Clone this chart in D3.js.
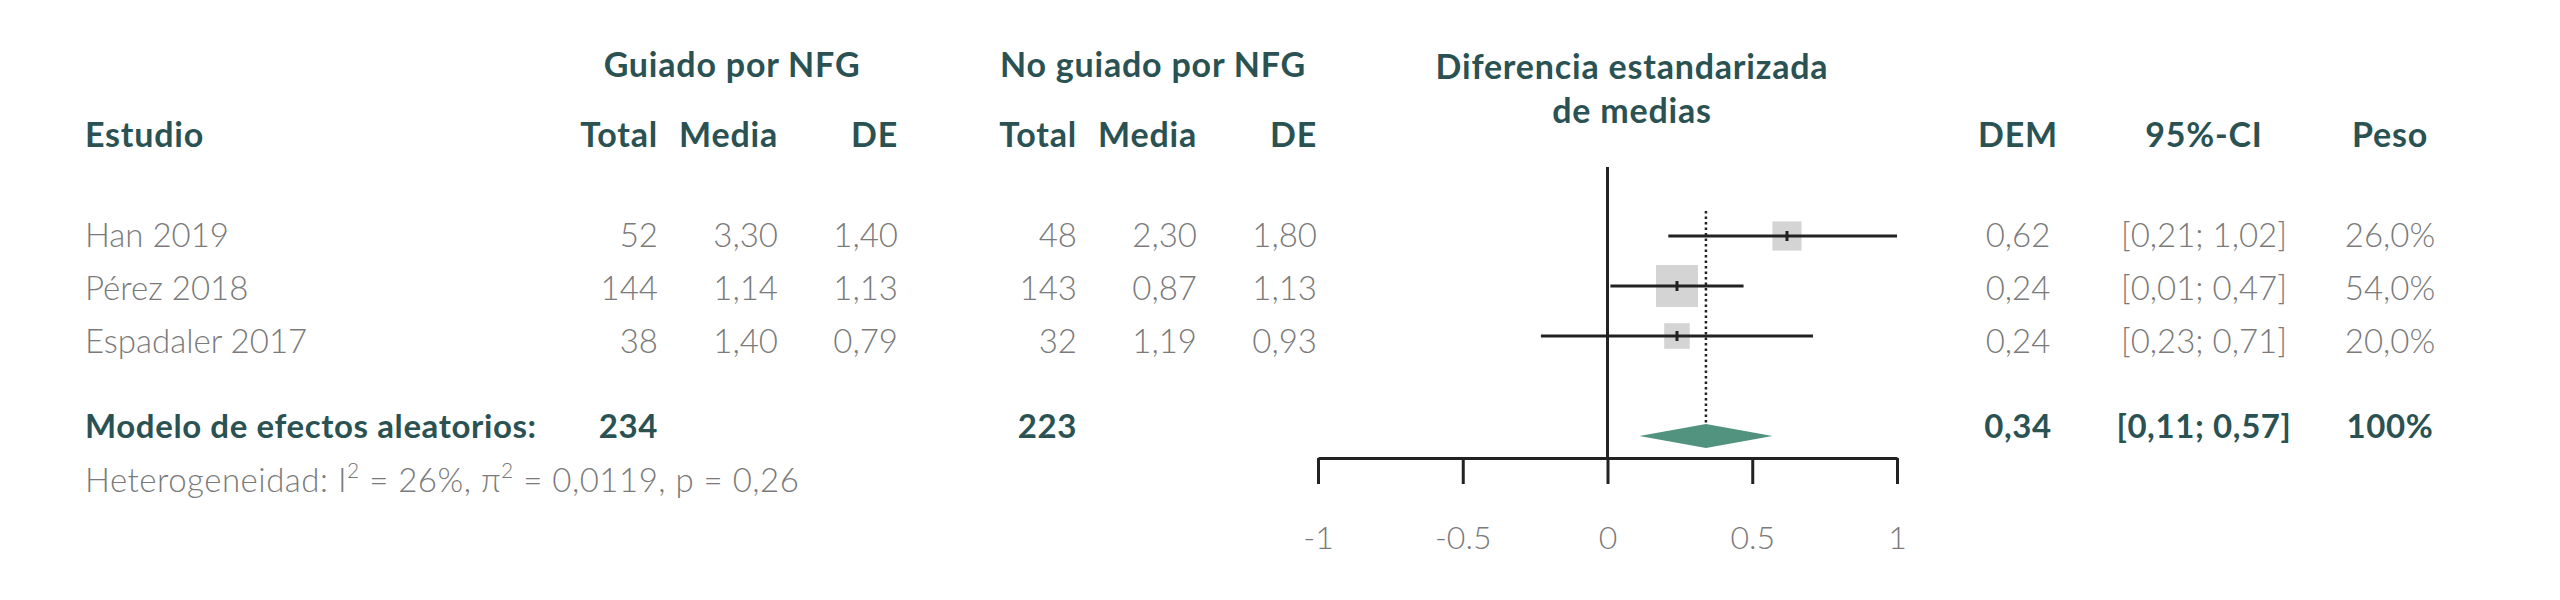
<!DOCTYPE html>
<html>
<head>
<meta charset="utf-8">
<script src="https://cdn.jsdelivr.net/npm/d3@7"></script>
<style>
  body { margin: 0; background: #fff; }
  svg text { font-family: Lato, "Open Sans", sans-serif; }
  .head { fill: #2b5253; font-weight: 700; font-size: 34px; letter-spacing: 0.8px; }
  .cell { fill: #7a7a7a; font-weight: 300; font-size: 33px; }
  .sum { fill: #2b5253; font-weight: 700; font-size: 33px; letter-spacing: 0.6px; }
</style>
</head>
<body>
<div id="chart"></div>
<script>
// data
const studies = ["Han 2019", "Pérez 2018", "Espadaler 2017"];
const nGuided = [52, 144, 38];
const meanGuided = [3.30, 1.14, 1.40];
const sdGuided = [1.40, 1.13, 0.79];
const nControl = [48, 143, 32];
const meanControl = [2.30, 0.87, 1.19];
const sdControl = [1.80, 1.13, 0.93];
const smd = [0.62, 0.24, 0.24];
const ciLow = [0.21, 0.01, -0.23];
const ciHigh = [1.02, 0.47, 0.71];
const ciLabels = ["[0,21; 1,02]", "[0,01; 0,47]", "[0,23; 0,71]"];
const weights = [26.0, 54.0, 20.0];

const pooled = {est: 0.34, low: 0.11, high: 0.57, label: "[0,11; 0,57]", weight: "100%"};
const totals = [234, 223];
const xTicks = [-1, -0.5, 0, 0.5, 1];

const width = 2560, height = 600;

const es = d3.formatLocale({decimal: ",", thousands: ".", grouping: [3], currency: ["", "€"], minus: "-"});
const f2 = es.format(".2f");
const f1 = es.format(".1f");

const svg = d3.select("#chart").append("svg")
    .attr("width", width)
    .attr("height", height);

// scales (CI lines are cut at the axis limits)
const x = d3.scaleLinear().domain([-1, 1]).range([1318, 1897]).clamp(true);
const rowText = d3.scaleLinear().domain([0, 1]).range([247, 300]);   // text baselines
const rowPlot = d3.scaleLinear().domain([0, 1]).range([236, 286]);   // forest rows
const boxSize = d3.scaleSqrt().domain([0, 54]).range([0, 42]);

// column positions (x, anchor)
const cols = [
    {x: 658, anchor: "end"}, {x: 778, anchor: "end"}, {x: 898, anchor: "end"},
    {x: 1077, anchor: "end"}, {x: 1197, anchor: "end"}, {x: 1317, anchor: "end"}
];
const rightCols = [2018, 2204, 2390];

// group headers
svg.append("text").attr("class", "head").attr("x", 732).attr("y", 77)
    .attr("text-anchor", "middle").text("Guiado por NFG");
svg.append("text").attr("class", "head").attr("x", 1153).attr("y", 77)
    .attr("text-anchor", "middle").text("No guiado por NFG");
svg.append("text").attr("class", "head").attr("x", 1632).attr("y", 79)
    .attr("text-anchor", "middle").text("Diferencia estandarizada");
svg.append("text").attr("class", "head").attr("x", 1632).attr("y", 123)
    .attr("text-anchor", "middle").text("de medias");

// column headers
svg.append("text").attr("class", "head").attr("x", 85).attr("y", 147).text("Estudio");
["Total", "Media", "DE", "Total", "Media", "DE"].forEach((h, i) => {
    svg.append("text").attr("class", "head")
        .attr("x", cols[i].x).attr("y", 147)
        .attr("text-anchor", cols[i].anchor).text(h);
});
["DEM", "95%-CI", "Peso"].forEach((h, i) => {
    svg.append("text").attr("class", "head")
        .attr("x", rightCols[i]).attr("y", 147)
        .attr("text-anchor", "middle").text(h);
});

// study rows
const rows = svg.append("g").attr("class", "rows");
studies.forEach((s, i) => {
    const y = rowText(i);
    rows.append("text").attr("class", "cell").attr("x", 85).attr("y", y).text(s);
    const vals = [nGuided[i], f2(meanGuided[i]), f2(sdGuided[i]),
                  nControl[i], f2(meanControl[i]), f2(sdControl[i])];
    vals.forEach((v, j) => {
        rows.append("text").attr("class", "cell")
            .attr("x", cols[j].x).attr("y", y)
            .attr("text-anchor", cols[j].anchor).text(v);
    });
    [f2(smd[i]), ciLabels[i], f1(weights[i]) + "%"].forEach((v, j) => {
        rows.append("text").attr("class", "cell")
            .attr("x", rightCols[j]).attr("y", y)
            .attr("text-anchor", "middle").text(v);
    });
});

// summary row
svg.append("text").attr("class", "sum").attr("x", 85).attr("y", 438)
    .text("Modelo de efectos aleatorios:");
svg.append("text").attr("class", "sum").attr("x", cols[0].x).attr("y", 438)
    .attr("text-anchor", "end").text(totals[0]);
svg.append("text").attr("class", "sum").attr("x", cols[3].x).attr("y", 438)
    .attr("text-anchor", "end").text(totals[1]);
[f2(pooled.est), pooled.label, pooled.weight].forEach((v, j) => {
    svg.append("text").attr("class", "sum")
        .attr("x", rightCols[j]).attr("y", 438)
        .attr("text-anchor", "middle").text(v);
});

// heterogeneity line
const het = svg.append("text").attr("class", "cell").attr("x", 85).attr("y", 492)
    .style("font-size", "33px").style("letter-spacing", "0.5px");
het.append("tspan").text("Heterogeneidad: I");
het.append("tspan").attr("dy", -14).style("font-size", "21px").text("2");
het.append("tspan").attr("dy", 14).text(" = 26%, \u03c0");
het.append("tspan").attr("dy", -14).style("font-size", "21px").text("2");
het.append("tspan").attr("dy", 14).text(" = 0,0119, p = 0,26");

// forest plot
const plot = svg.append("g").attr("class", "forest");
const axisY = 458;

// null line
plot.append("line")
    .attr("x1", x(0)).attr("x2", x(0))
    .attr("y1", 167).attr("y2", axisY)
    .attr("stroke", "#222").attr("stroke-width", 3);

// pooled estimate dotted line
plot.append("line")
    .attr("x1", x(pooled.est)).attr("x2", x(pooled.est))
    .attr("y1", 211).attr("y2", 424)
    .attr("stroke", "#222").attr("stroke-width", 2.5)
    .attr("stroke-dasharray", "2.5,3");

// boxes
plot.selectAll("rect.box")
    .data(smd)
    .enter().append("rect")
    .attr("class", "box")
    .attr("x", (d, i) => x(d) - boxSize(weights[i]) / 2)
    .attr("y", (d, i) => rowPlot(i) - boxSize(weights[i]) / 2)
    .attr("width", (d, i) => boxSize(weights[i]))
    .attr("height", (d, i) => boxSize(weights[i]))
    .attr("fill", "#d4d4d4");

// confidence intervals
plot.selectAll("line.ci")
    .data(smd)
    .enter().append("line")
    .attr("class", "ci")
    .attr("x1", (d, i) => x(ciLow[i]))
    .attr("x2", (d, i) => x(ciHigh[i]))
    .attr("y1", (d, i) => rowPlot(i))
    .attr("y2", (d, i) => rowPlot(i))
    .attr("stroke", "#222").attr("stroke-width", 3);

// point marks
plot.selectAll("line.pt")
    .data(smd)
    .enter().append("line")
    .attr("class", "pt")
    .attr("x1", d => x(d)).attr("x2", d => x(d))
    .attr("y1", (d, i) => rowPlot(i) - 5)
    .attr("y2", (d, i) => rowPlot(i) + 5)
    .attr("stroke", "#222").attr("stroke-width", 3);

// diamond
const dy = 436, dh = 12;
plot.append("path")
    .attr("d", d3.line()([
        [x(pooled.low), dy], [x(pooled.est), dy - dh],
        [x(pooled.high), dy], [x(pooled.est), dy + dh]
    ]) + "Z")
    .attr("fill", "#52937f");

// x axis
const axis = plot.append("g")
    .attr("transform", "translate(0," + axisY + ")")
    .call(d3.axisBottom(x)
        .tickValues(xTicks)
        .tickFormat(d => String(d))
        .tickSize(26)
        .tickSizeOuter(0)
        .tickPadding(42));
axis.select(".domain").attr("stroke", "#222").attr("stroke-width", 3);
axis.selectAll(".tick line").attr("stroke", "#222").attr("stroke-width", 3);
axis.selectAll(".tick text")
    .attr("fill", "#7a7a7a")
    .style("font-family", "Lato, sans-serif")
    .style("font-weight", 300)
    .style("font-size", "32px");
</script>
</body>
</html>
